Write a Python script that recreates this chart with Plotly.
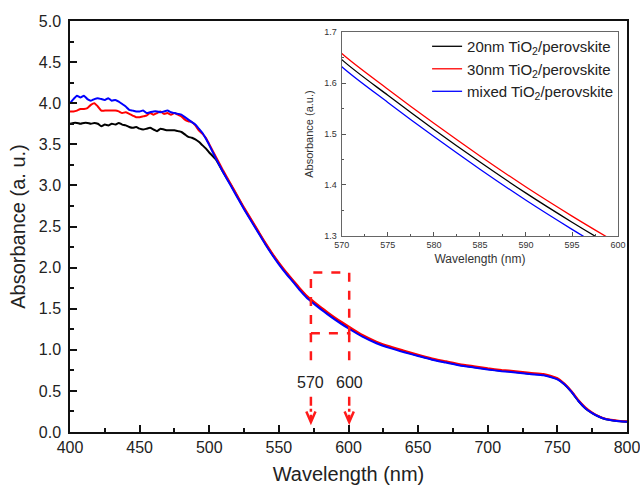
import plotly.graph_objects as go

# ---------------- data ----------------
wavelength = [400, 402.5, 405, 407.5, 410, 412.5, 415, 417.5, 420, 422.5, 425, 427.5, 430, 432.5,
              435, 437.5, 440, 442.5, 445, 447.5, 450, 452.5, 455, 457.5, 460, 462.5, 465, 467.5,
              470, 472.5, 475, 477.5, 480, 482.5, 485, 487.5, 490, 492.5, 495, 497.5, 500,
              505, 510, 515, 520, 525, 530, 535, 540, 545, 550, 555, 560, 565, 570, 575, 580,
              585, 590, 595, 600, 610, 620, 630, 640, 650, 660, 670, 680, 690, 700, 710, 720,
              730, 740, 745, 750, 755, 760, 765, 770, 775, 780, 785, 790, 795, 800]

abs_20nm = [3.75, 3.76, 3.76, 3.75, 3.76, 3.76, 3.75, 3.76, 3.75, 3.72, 3.74, 3.73, 3.75, 3.74,
            3.76, 3.74, 3.73, 3.71, 3.70, 3.71, 3.69, 3.68, 3.69, 3.70, 3.68, 3.66, 3.69, 3.68,
            3.67, 3.67, 3.67, 3.66, 3.65, 3.62, 3.59, 3.58, 3.56, 3.53, 3.49, 3.45, 3.40,
            3.31, 3.16, 3.02, 2.87, 2.72, 2.58, 2.44, 2.30, 2.17, 2.05, 1.94, 1.84, 1.74, 1.646,
            1.576, 1.509, 1.445, 1.384, 1.327, 1.273, 1.17, 1.09, 1.03, 0.98, 0.93, 0.885, 0.85,
            0.815, 0.79, 0.765, 0.745, 0.73, 0.71, 0.695, 0.675, 0.645, 0.58, 0.49, 0.38, 0.29,
            0.23, 0.185, 0.155, 0.14, 0.13, 0.125]

abs_30nm = [3.90, 3.90, 3.91, 3.93, 3.93, 3.94, 3.98, 4.00, 3.96, 3.91, 3.91, 3.91, 3.91, 3.91,
            3.90, 3.88, 3.89, 3.87, 3.85, 3.83, 3.83, 3.84, 3.85, 3.88, 3.86, 3.88, 3.90, 3.87,
            3.88, 3.86, 3.88, 3.86, 3.84, 3.80, 3.78, 3.77, 3.73, 3.67, 3.63, 3.58, 3.50,
            3.34, 3.18, 3.03, 2.88, 2.73, 2.59, 2.45, 2.31, 2.18, 2.06, 1.95, 1.85, 1.75, 1.658,
            1.588, 1.521, 1.457, 1.396, 1.339, 1.285, 1.18, 1.10, 1.04, 0.99, 0.94, 0.895, 0.86,
            0.825, 0.80, 0.775, 0.755, 0.74, 0.72, 0.705, 0.685, 0.655, 0.59, 0.50, 0.39, 0.30,
            0.235, 0.19, 0.16, 0.145, 0.135, 0.13]

abs_mixed = [4.00, 4.05, 4.09, 4.07, 4.09, 4.05, 4.03, 4.05, 4.06, 4.05, 4.04, 4.06, 4.03, 4.04,
             4.02, 3.99, 3.96, 3.92, 3.91, 3.90, 3.90, 3.91, 3.88, 3.89, 3.90, 3.90, 3.89, 3.90,
             3.91, 3.89, 3.88, 3.87, 3.86, 3.83, 3.80, 3.77, 3.74, 3.69, 3.64, 3.57, 3.49,
             3.32, 3.16, 3.01, 2.86, 2.71, 2.57, 2.43, 2.29, 2.16, 2.04, 1.93, 1.83, 1.725, 1.632,
             1.562, 1.495, 1.431, 1.370, 1.313, 1.259, 1.16, 1.08, 1.02, 0.97, 0.925, 0.88, 0.845,
             0.81, 0.785, 0.76, 0.74, 0.725, 0.705, 0.69, 0.67, 0.64, 0.58, 0.49, 0.38, 0.29,
             0.23, 0.185, 0.155, 0.14, 0.13, 0.125]

series_names = ["20nm TiO<sub>2</sub>/perovskite",
                "30nm TiO<sub>2</sub>/perovskite",
                "mixed TiO<sub>2</sub>/perovskite"]
series_colors = ["#000000", "#FF0000", "#0000FF"]
series_values = [abs_20nm, abs_30nm, abs_mixed]

main_xticks = [400, 450, 500, 550, 600, 650, 700, 750, 800]
main_yticks = [0.0, 0.5, 1.0, 1.5, 2.0, 2.5, 3.0, 3.5, 4.0, 4.5, 5.0]
inset_xticks = [570, 575, 580, 585, 590, 595, 600]
inset_yticks = [1.3, 1.4, 1.5, 1.6, 1.7]

zoom_box = [573, 600.5, 1.2, 1.94]          # x0, x1, y0, y1 of the dashed box
marker_wl = [573, 600.5]
marker_labels = ["570", "600"]

# ---------------- figure ----------------
fig = go.Figure()

for name, col, vals in zip(series_names, series_colors, series_values):
    fig.add_trace(go.Scatter(x=wavelength, y=vals, mode="lines", name=name,
                             line=dict(color=col, width=2, shape="spline", smoothing=0.5),
                             showlegend=False, xaxis="x", yaxis="y"))

for name, col, vals in zip(series_names, series_colors, series_values):
    fig.add_trace(go.Scatter(x=wavelength, y=vals, mode="lines", name=name,
                             line=dict(color=col, width=1.3, shape="spline", smoothing=0.8),
                             showlegend=True, xaxis="x2", yaxis="y2"))

FONT = "Liberation Sans, Arial, sans-serif"

fig.update_layout(
    width=640, height=489,
    margin=dict(l=70, r=13, t=21, b=57),
    paper_bgcolor="white", plot_bgcolor="white",
    font=dict(family=FONT, color="#222222"),
    xaxis=dict(range=[400, 800], domain=[0, 1], anchor="y",
               tickvals=main_xticks, ticks="inside", ticklen=7, tickwidth=1.5,
               tickcolor="#111", showline=True, linecolor="#111", linewidth=1.5,
               mirror=True, showgrid=False, zeroline=False, ticklabeloverflow="allow",
               tickfont=dict(size=16, family=FONT, color="#222"),
               minor=dict(dtick=25, ticks="inside", ticklen=4, tickwidth=1.5, tickcolor="#111"),
               title=dict(text="Wavelength (nm)", font=dict(size=20, family=FONT, color="#222"),
                          standoff=12),
               automargin=False),
    yaxis=dict(range=[0, 5], domain=[0, 1], anchor="x",
               tickvals=main_yticks, ticktext=[f"{v:.1f}" for v in main_yticks],
               ticks="inside", ticklen=7, tickwidth=1.5,
               tickcolor="#111", showline=True, linecolor="#111", linewidth=1.5,
               mirror=True, showgrid=False, zeroline=False, ticklabelstandoff=4,
               ticklabeloverflow="allow",
               tickfont=dict(size=16, family=FONT, color="#222"),
               minor=dict(dtick=0.25, ticks="inside", ticklen=4, tickwidth=1.5, tickcolor="#111"),
               title=dict(text="Absorbance (a. u.)", font=dict(size=20, family=FONT, color="#222"),
                          standoff=8),
               automargin=False),
    xaxis2=dict(range=[570, 600], domain=[0.488, 0.984], anchor="y2",
                tickvals=inset_xticks, ticks="inside", ticklen=4, tickwidth=1,
                tickcolor="#555", showline=True, linecolor="#666", linewidth=1.3,
                mirror=True, showgrid=False, zeroline=False,
                tickfont=dict(size=9, family=FONT, color="#333"),
                minor=dict(dtick=2.5, ticks="inside", ticklen=2, tickwidth=1, tickcolor="#555"),
                title=dict(text="Wavelength (nm)", font=dict(size=12, family=FONT, color="#333"),
                           standoff=5),
                automargin=False),
    yaxis2=dict(range=[1.3, 1.7], domain=[0.477, 0.973], anchor="x2",
                tickvals=inset_yticks, ticktext=[f"{v:.1f}" for v in inset_yticks],
                ticks="inside", ticklen=4, tickwidth=1,
                tickcolor="#555", showline=True, linecolor="#666", linewidth=1.3,
                mirror=True, showgrid=False, zeroline=False, ticklabelstandoff=2,
                tickfont=dict(size=9, family=FONT, color="#333"),
                minor=dict(dtick=0.05, ticks="inside", ticklen=2, tickwidth=1, tickcolor="#555"),
                title=dict(text="Absorbance (a.u.)", font=dict(size=11, family=FONT, color="#333"),
                           standoff=8),
                automargin=False),
    legend=dict(x=0.984, y=0.978, xanchor="right", yanchor="top",
                bgcolor="rgba(0,0,0,0)", borderwidth=0,
                font=dict(size=15, family=FONT, color="#222"),
                tracegroupgap=0, itemwidth=30),
)

RED = "#FF1A1A"
# dashed zoom box
fig.add_shape(type="rect", xref="x", yref="y",
              x0=zoom_box[0], x1=zoom_box[1], y0=zoom_box[2], y1=zoom_box[3],
              line=dict(color=RED, width=2.5, dash="dash"), fillcolor="rgba(0,0,0,0)")
for wl, lab in zip(marker_wl, marker_labels):
    fig.add_shape(type="line", xref="x", yref="y", x0=wl, x1=wl, y0=zoom_box[2], y1=0.87,
                  line=dict(color=RED, width=2.5, dash="dash"))
    fig.add_shape(type="line", xref="x", yref="y", x0=wl, x1=wl, y0=0.43, y1=0.13,
                  line=dict(color=RED, width=2.5, dash="dashdot"))
    fig.add_shape(type="path", xref="x", yref="y",
                  path=f"M {wl-3.3},0.25 L {wl},0.12 L {wl+3.3},0.25",
                  line=dict(color=RED, width=2.5))
    fig.add_annotation(x=wl, y=0.6, xref="x", yref="y", text=lab, showarrow=False,
                       font=dict(size=16, family=FONT, color="#222"))

fig.write_html("out.html")
